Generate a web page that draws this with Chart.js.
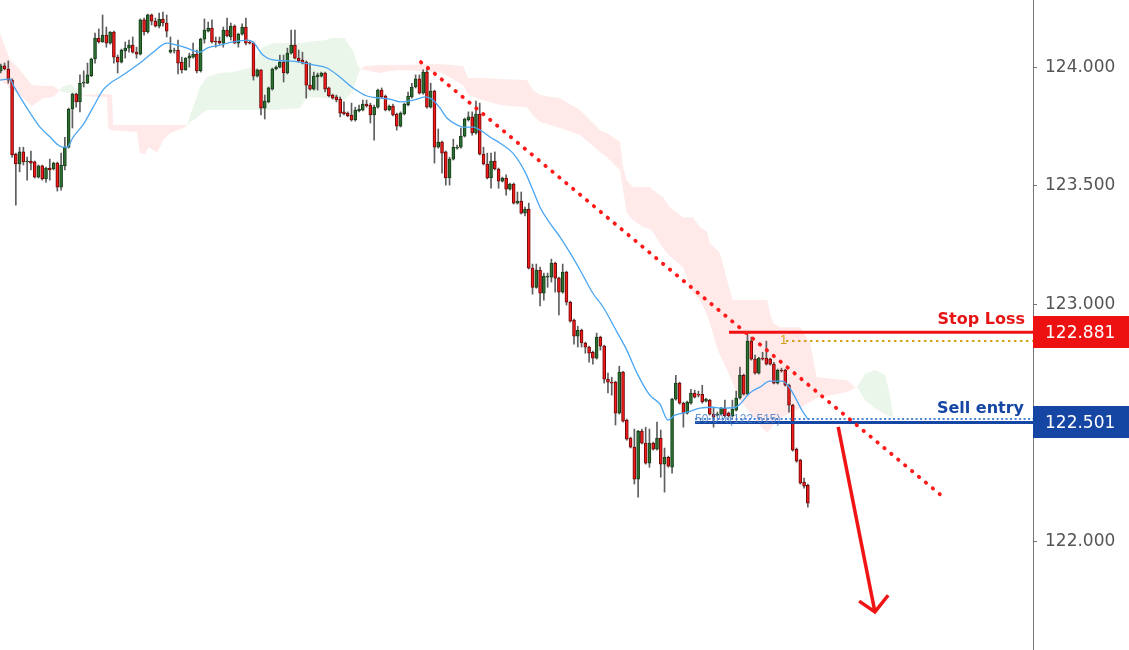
<!DOCTYPE html>
<html>
<head>
<meta charset="utf-8">
<script src="https://cdn.jsdelivr.net/npm/chart.js@4.4.0/dist/chart.umd.min.js"></script>
<style>
  html, body { margin: 0; padding: 0; background: #fff; }
  #caixa { width: 1129px; height: 650px; }
</style>
</head>
<body>
<div id="caixa"><canvas id="grafico"></canvas></div>
<script>
// velas (abertura, maxima, minima, fechamento)
const abertura = [123.984,124.005,123.992,123.945,123.633,123.591,123.642,123.600,123.604,123.600,123.536,123.583,123.528,123.574,123.570,123.595,123.493,123.583,123.662,123.823,123.886,123.853,123.932,123.932,123.963,124.034,124.122,124.106,124.135,124.101,124.148,124.042,124.021,124.068,124.080,124.093,124.063,124.055,124.199,124.148,124.220,124.194,124.173,124.203,124.186,124.063,124.068,124.072,124.021,123.988,124.038,124.042,124.055,123.984,124.118,124.152,124.165,124.110,124.110,124.101,124.156,124.127,124.173,124.101,124.139,124.169,124.104,124.101,123.962,123.988,123.827,123.853,123.907,123.992,124.000,124.021,123.975,124.059,124.093,124.038,124.030,124.021,123.924,123.907,123.958,123.962,123.975,123.912,123.882,123.874,123.865,123.811,123.806,123.798,123.777,123.815,123.819,123.844,123.840,123.798,123.831,123.903,123.878,123.819,123.836,123.802,123.751,123.802,123.840,123.874,123.916,123.950,123.890,123.979,123.831,123.899,123.662,123.684,123.642,123.532,123.612,123.658,123.662,123.709,123.777,123.790,123.722,123.802,123.633,123.591,123.532,123.604,123.570,123.519,123.532,123.485,123.506,123.426,123.435,123.384,123.401,123.152,123.071,123.144,123.046,123.114,123.114,123.173,123.110,123.050,123.135,123.008,122.933,122.865,122.890,122.836,122.819,122.797,122.772,122.861,122.823,122.684,122.671,122.671,122.540,122.713,122.511,122.435,122.397,122.262,122.464,122.414,122.329,122.414,122.388,122.435,122.325,122.354,122.312,122.599,122.667,122.582,122.540,122.582,122.625,122.620,122.620,122.591,122.595,122.536,122.532,122.536,122.561,122.540,122.528,122.553,122.604,122.700,122.620,122.844,122.768,122.709,122.772,122.772,122.768,122.747,122.667,122.722,122.722,122.658,122.574,122.388,122.342,122.249,122.236];
const maxima = [124.013,124.017,124.026,123.950,123.637,123.662,123.662,123.620,123.646,123.604,123.587,123.587,123.578,123.612,123.599,123.599,123.637,123.704,123.827,123.890,123.890,123.967,123.984,124.017,124.038,124.143,124.161,124.220,124.169,124.150,124.152,124.051,124.076,124.106,124.114,124.127,124.084,124.203,124.207,124.224,124.224,124.207,124.228,124.232,124.220,124.127,124.080,124.114,124.042,124.040,124.059,124.101,124.072,124.122,124.203,124.190,124.199,124.127,124.127,124.169,124.207,124.186,124.178,124.143,124.182,124.207,124.110,124.106,123.992,123.990,123.882,123.916,123.996,124.005,124.051,124.051,124.080,124.156,124.156,124.072,124.063,124.026,124.017,123.979,123.975,123.979,123.979,123.916,123.886,123.882,123.874,123.853,123.811,123.848,123.831,123.840,123.861,123.861,123.848,123.840,123.907,123.912,123.882,123.840,123.844,123.806,123.811,123.848,123.895,123.932,123.967,123.967,123.988,123.996,123.932,123.903,123.739,123.688,123.646,123.620,123.696,123.671,123.743,123.785,123.811,123.811,123.857,123.848,123.662,123.637,123.637,123.642,123.574,123.536,123.545,123.511,123.511,123.473,123.473,123.409,123.426,123.169,123.169,123.156,123.131,123.131,123.190,123.177,123.114,123.169,123.139,123.013,122.937,122.907,122.895,122.840,122.823,122.802,122.878,122.865,122.827,122.709,122.692,122.675,122.738,122.717,122.515,122.439,122.473,122.468,122.473,122.481,122.473,122.418,122.502,122.469,122.393,122.359,122.603,122.700,122.671,122.587,122.591,122.641,122.637,122.633,122.658,122.603,122.599,122.565,122.545,122.565,122.595,122.545,122.595,122.633,122.734,122.705,122.878,122.861,122.785,122.776,122.797,122.844,122.772,122.755,122.726,122.730,122.726,122.663,122.578,122.393,122.346,122.266,122.241];
const minima = [123.975,123.988,123.932,123.620,123.418,123.558,123.587,123.523,123.566,123.532,123.532,123.523,123.515,123.523,123.566,123.477,123.481,123.566,123.658,123.743,123.831,123.811,123.916,123.930,123.960,124.017,124.101,124.104,124.084,124.097,124.017,123.975,124.017,124.038,124.063,124.059,124.038,124.051,124.135,124.143,124.178,124.169,124.165,124.173,124.127,124.059,124.059,123.971,123.975,123.986,124.000,124.038,123.975,123.979,124.101,124.148,124.101,124.084,124.097,124.084,124.127,124.114,124.099,124.084,124.135,124.093,124.097,123.945,123.958,123.798,123.781,123.849,123.903,123.988,123.996,123.937,123.971,124.055,124.034,124.021,124.013,123.869,123.903,123.903,123.903,123.958,123.895,123.874,123.865,123.853,123.790,123.798,123.790,123.772,123.772,123.811,123.815,123.831,123.764,123.692,123.827,123.869,123.815,123.815,123.794,123.734,123.747,123.798,123.836,123.869,123.912,123.886,123.886,123.827,123.827,123.595,123.658,123.553,123.502,123.502,123.608,123.654,123.658,123.705,123.772,123.713,123.717,123.629,123.587,123.528,123.489,123.566,123.489,123.515,123.460,123.481,123.422,123.422,123.380,123.372,123.148,123.042,123.067,122.992,123.017,123.071,123.093,123.050,122.954,123.046,122.996,122.924,122.831,122.819,122.819,122.793,122.755,122.747,122.768,122.806,122.667,122.625,122.616,122.490,122.536,122.502,122.426,122.393,122.241,122.186,122.410,122.325,122.312,122.384,122.384,122.270,122.207,122.312,122.287,122.595,122.578,122.481,122.536,122.578,122.604,122.608,122.582,122.587,122.532,122.481,122.528,122.532,122.523,122.523,122.523,122.549,122.599,122.616,122.616,122.764,122.705,122.705,122.764,122.743,122.743,122.663,122.663,122.713,122.654,122.544,122.380,122.333,122.241,122.224,122.143];
const fechamento = [124.005,123.992,123.945,123.629,123.591,123.642,123.600,123.604,123.595,123.536,123.583,123.528,123.574,123.566,123.595,123.493,123.587,123.662,123.823,123.886,123.853,123.932,123.937,123.967,124.034,124.122,124.106,124.135,124.101,124.148,124.042,124.021,124.072,124.080,124.093,124.063,124.055,124.199,124.148,124.220,124.194,124.173,124.203,124.186,124.152,124.072,124.070,124.017,123.988,124.038,124.047,124.055,123.984,124.118,124.156,124.165,124.106,124.106,124.101,124.156,124.131,124.173,124.101,124.139,124.169,124.101,124.101,123.962,123.988,123.827,123.857,123.912,123.992,124.000,124.021,123.975,124.059,124.093,124.038,124.026,124.017,123.924,123.907,123.962,123.967,123.975,123.907,123.878,123.869,123.861,123.806,123.802,123.794,123.777,123.819,123.823,123.844,123.836,123.798,123.831,123.903,123.874,123.819,123.836,123.798,123.751,123.806,123.844,123.878,123.916,123.950,123.890,123.979,123.831,123.899,123.662,123.684,123.637,123.532,123.612,123.662,123.662,123.709,123.781,123.790,123.722,123.802,123.633,123.591,123.532,123.604,123.570,123.519,123.532,123.485,123.506,123.426,123.435,123.384,123.401,123.152,123.071,123.144,123.046,123.118,123.118,123.173,123.110,123.050,123.135,123.008,122.928,122.865,122.890,122.836,122.819,122.793,122.772,122.861,122.823,122.684,122.671,122.667,122.540,122.713,122.506,122.430,122.397,122.262,122.464,122.414,122.329,122.414,122.388,122.435,122.325,122.354,122.316,122.599,122.667,122.582,122.540,122.587,122.625,122.608,122.616,122.587,122.599,122.536,122.523,122.536,122.561,122.528,122.528,122.557,122.604,122.700,122.620,122.844,122.768,122.709,122.772,122.768,122.747,122.747,122.667,122.722,122.718,122.658,122.574,122.384,122.338,122.245,122.232,122.160];

// media movel (posicao da vela, preco)
const mediaX = [-0.2,2.5,3.3,5.1,7.8,10.4,13.1,14.9,16.3,17.6,19.2,21.8,24.5,27.1,29.0,31.6,35.1,36.9,40.4,44.1,46.7,49.4,52.8,54.7,58.1,61.6,65.3,66.9,69.5,72.2,75.9,79.3,82.8,86.5,89.9,93.4,97.1,100.6,103.2,105.9,108.5,111.2,112.5,113.8,114.6,116.5,118.3,121.0,122.6,125.2,127.9,129.7,132.4,135.8,139.0,141.1,143.0,145.6,148.3,151.0,153.6,157.0,159.7,163.4,166.0,168.7,172.1,174.8,176.9,178.8,181.9,185.4,188.8,190.7,194.7,196.0,198.6,201.3,203.9,207.1,208.7,210.6,212.4,214.0];
const mediaY = [123.945,123.950,123.924,123.874,123.806,123.747,123.705,123.675,123.662,123.662,123.705,123.756,123.831,123.903,123.932,123.958,123.996,124.017,124.063,124.101,124.093,124.080,124.063,124.080,124.093,124.106,124.114,124.106,124.051,124.030,124.026,124.021,124.009,123.996,123.958,123.912,123.878,123.869,123.865,123.853,123.857,123.869,123.874,123.869,123.861,123.827,123.785,123.756,123.747,123.747,123.726,123.705,123.679,123.637,123.558,123.481,123.409,123.342,123.283,123.215,123.144,123.046,122.988,122.882,122.806,122.709,122.616,122.578,122.511,122.532,122.544,122.561,122.565,122.561,122.565,122.578,122.625,122.650,122.675,122.675,122.658,122.608,122.553,122.515];

// nuvem (linhas A e B)
const nuvemX = [-0.2,2.5,5.1,8.3,11.2,13.9,15.5,16.3,18.4,21.0,22.1,26.3,28.2,28.5,29.5,29.8,36.1,36.9,38.3,39.1,41.4,42.2,43.0,44.9,49.1,49.7,50.2,52.0,52.8,54.7,58.1,61.6,66.9,68.7,69.5,72.2,79.4,81.2,86.5,87.3,91.3,92.6,93.4,94.7,95.5,96.6,100.6,103.2,105.9,116.5,122.6,123.9,127.9,132.4,139.5,141.1,143.0,148.3,153.6,158.9,160.7,164.2,165.0,166.0,167.6,170.3,172.1,172.9,175.6,177.4,180.9,183.5,185.4,187.3,188.0,189.9,190.7,192.6,194.1,196.0,198.6,201.8,203.2,204.0,204.8,206.6,211.9,214.6,216.4,224.4,226.5,227.3,229.1,231.8,234.5,235.8,236.6];
const nuvemA = [123.945,123.912,123.882,123.836,123.869,123.874,123.899,123.916,123.929,123.895,123.878,123.874,123.874,123.743,123.734,123.734,123.726,123.637,123.633,123.662,123.642,123.662,123.692,123.722,123.747,123.768,123.798,123.874,123.916,123.958,123.975,123.979,124.000,124.072,124.085,124.102,124.102,124.106,124.114,124.123,124.123,124.085,124.072,124.005,123.992,123.988,123.975,123.983,123.988,123.979,123.924,123.882,123.861,123.840,123.831,123.798,123.768,123.743,123.713,123.642,123.620,123.566,123.481,123.384,123.355,123.325,123.317,123.304,123.236,123.203,123.156,123.047,123.017,122.954,122.920,122.819,122.785,122.722,122.667,122.595,122.544,122.477,122.460,122.469,122.490,122.519,122.561,122.587,122.604,122.629,122.646,122.654,122.705,122.722,122.701,122.616,122.527];
const nuvemB = [124.144,124.030,123.988,123.924,123.920,123.920,123.903,123.895,123.891,123.878,123.882,123.886,123.886,123.886,123.882,123.756,123.756,123.756,123.756,123.756,123.756,123.756,123.756,123.756,123.756,123.756,123.768,123.785,123.798,123.819,123.819,123.819,123.819,123.819,123.819,123.819,123.827,123.874,123.869,123.869,123.861,123.882,123.903,123.967,123.992,124.005,124.009,124.009,124.009,124.013,124.005,123.954,123.954,123.950,123.945,123.903,123.882,123.869,123.819,123.734,123.722,123.684,123.578,123.523,123.494,123.494,123.494,123.481,123.452,123.409,123.367,123.367,123.325,123.304,123.258,123.228,123.215,123.101,123.017,123.017,123.017,123.017,123.017,122.962,122.920,122.903,122.903,122.836,122.692,122.679,122.650,122.646,122.595,122.561,122.536,122.527,122.519];

// linha de tendencia e seta
const tendX = [111.4, 249.0];
const tendY = [124.021, 122.198];
const setaX = [222.05, 231.78];
const setaY = [122.482, 121.702];
const pontaX = [227.6, 231.78, 235.3];
const pontaY = [121.747, 121.702, 121.772];

// niveis
const precoStop = 122.881;
const precoEntrada = 122.501;
const precoFib50 = 122.515;
const precoFib1 = 122.845;
const marcasY = [122.0, 123.0, 123.5, 124.0];

const fimX = 273.7;

const corpos = abertura.map((o, i) => ({ x: i, y: [o, fechamento[i]] }));
const pavios = maxima.map((h, i) => ({ x: i, y: [minima[i], h] }));
const sobe = abertura.map((o, i) => fechamento[i] >= o);

const pontos = (xs, ys) => xs.map((x, i) => ({ x: x, y: ys[i] }));

const rotulos = {
  id: 'rotulos',
  afterDraw(chart) {
    const ctx = chart.ctx;
    const ey = chart.scales.y;
    const area = chart.chartArea;
    const dir = area.right;
    ctx.save();

    const caixa = (preco, cor, texto) => {
      const yy = ey.getPixelForValue(preco);
      ctx.fillStyle = cor;
      ctx.fillRect(dir, Math.round(yy) - 16, chart.width - dir, 32);
      ctx.strokeStyle = cor;
      ctx.lineWidth = 1;
      ctx.beginPath();
      ctx.moveTo(dir - 4, Math.round(yy) + 0.5);
      ctx.lineTo(dir + 4, Math.round(yy) + 0.5);
      ctx.stroke();
      ctx.fillStyle = '#ffffff';
      ctx.font = '17px "DejaVu Sans"';
      ctx.textAlign = 'left';
      ctx.textBaseline = 'middle';
      ctx.fillText(texto, dir + 12, yy + 1);
    };
    caixa(precoStop, '#ee1111', precoStop.toFixed(3));
    caixa(precoEntrada, '#1546a3', precoEntrada.toFixed(3));

    ctx.font = 'bold 16px "DejaVu Sans"';
    ctx.textAlign = 'right';
    ctx.textBaseline = 'middle';
    ctx.fillStyle = '#e61414';
    ctx.fillText('Stop Loss', dir - 8, ey.getPixelForValue(precoStop) - 13);
    ctx.fillStyle = '#1546a3';
    ctx.fillText('Sell entry', dir - 9, ey.getPixelForValue(precoEntrada) - 14);

    // rotulos do fibonacci
    const ex = chart.scales.x;
    ctx.font = '12px "Liberation Sans"';
    ctx.textAlign = 'left';
    ctx.fillStyle = 'rgba(70, 125, 200, 0.85)';
    ctx.fillText('50.0%(122.515)', ex.getPixelForValue(184.1), ey.getPixelForValue(precoFib50) + 1);
    ctx.font = '13px "Liberation Sans"';
    ctx.fillStyle = '#d6a11c';
    ctx.fillText('1', ex.getPixelForValue(206.6), ey.getPixelForValue(precoFib1));
    ctx.restore();
  }
};

new Chart(document.getElementById('grafico'), {
  type: 'bar',
  data: {
    datasets: [
      {
        type: 'line',
        data: pontos(nuvemX, nuvemA),
        borderWidth: 0,
        pointRadius: 0,
        fill: { target: '+1', above: 'rgba(70, 170, 70, 0.11)', below: 'rgba(255, 70, 70, 0.12)' },
        order: 10
      },
      {
        type: 'line',
        data: pontos(nuvemX, nuvemB),
        borderWidth: 0,
        pointRadius: 0,
        fill: false,
        order: 10
      },
      {
        data: pavios,
        backgroundColor: '#5e5e5e',
        barThickness: 1,
        grouped: false,
        order: 6
      },
      {
        data: corpos,
        backgroundColor: sobe.map(s => s ? '#2c6f31' : '#f41a1a'),
        borderColor: sobe.map(s => s ? '#163d19' : '#6e0808'),
        borderWidth: 1,
        borderSkipped: false,
        barThickness: 3,
        grouped: false,
        order: 5
      },
      {
        type: 'line',
        data: pontos(mediaX, mediaY),
        borderColor: '#4aa6f2',
        borderWidth: 1.3,
        pointRadius: 0,
        cubicInterpolationMode: 'monotone',
        order: 4
      },
      {
        type: 'line',
        data: pontos([184.1, fimX], [precoFib50, precoFib50]),
        borderColor: '#4a84cf',
        borderWidth: 2,
        borderDash: [2, 2.5],
        pointRadius: 0,
        order: 3
      },
      {
        type: 'line',
        data: pontos([208.2, fimX], [precoFib1, precoFib1]),
        borderColor: '#d6a51e',
        borderWidth: 2,
        borderDash: [2.5, 3.5],
        pointRadius: 0,
        order: 3
      },
      {
        type: 'line',
        data: pontos([184.1, fimX], [precoEntrada, precoEntrada]),
        borderColor: '#1546a3',
        borderWidth: 3,
        pointRadius: 0,
        order: 2
      },
      {
        type: 'line',
        data: pontos([193.1, fimX], [precoStop, precoStop]),
        borderColor: '#f01212',
        borderWidth: 3,
        pointRadius: 0,
        order: 2
      },
      {
        type: 'line',
        data: pontos(tendX, tendY),
        borderColor: '#ff1a1a',
        borderWidth: 3.8,
        borderDash: [0.5, 8.5],
        borderCapStyle: 'round',
        pointRadius: 0,
        order: 1
      },
      {
        type: 'line',
        data: pontos(setaX, setaY),
        borderColor: '#f01414',
        borderWidth: 3.5,
        pointRadius: 0,
        order: 0
      },
      {
        type: 'line',
        data: pontos(pontaX, pontaY),
        borderColor: '#f01414',
        borderWidth: 3.5,
        borderJoinStyle: 'miter',
        pointRadius: 0,
        order: 0
      }
    ]
  },
  options: {
    responsive: true,
    maintainAspectRatio: false,
    animation: false,
    devicePixelRatio: 1,
    layout: { padding: 0 },
    plugins: {
      legend: { display: false },
      tooltip: { enabled: false }
    },
    scales: {
      x: {
        type: 'linear',
        display: false,
        min: -0.2,
        max: fimX,
        offset: false
      },
      y: {
        position: 'right',
        min: 121.541,
        max: 124.283,
        afterBuildTicks: (s) => { s.ticks = marcasY.map(v => ({ value: v })); },
        afterFit: (s) => {
          s.width = 96;
          s.paddingTop = 0;
          s.paddingBottom = 0;
        },
        ticks: {
          color: '#555555',
          padding: 8,
          font: { family: 'DejaVu Sans', size: 17 },
          callback: (v) => Number(v).toFixed(3)
        },
        grid: { drawOnChartArea: false, drawTicks: true, tickLength: 4, color: '#777777' },
        border: { display: true, color: '#777777' }
      }
    }
  },
  plugins: [rotulos]
});
</script>
</body>
</html>
